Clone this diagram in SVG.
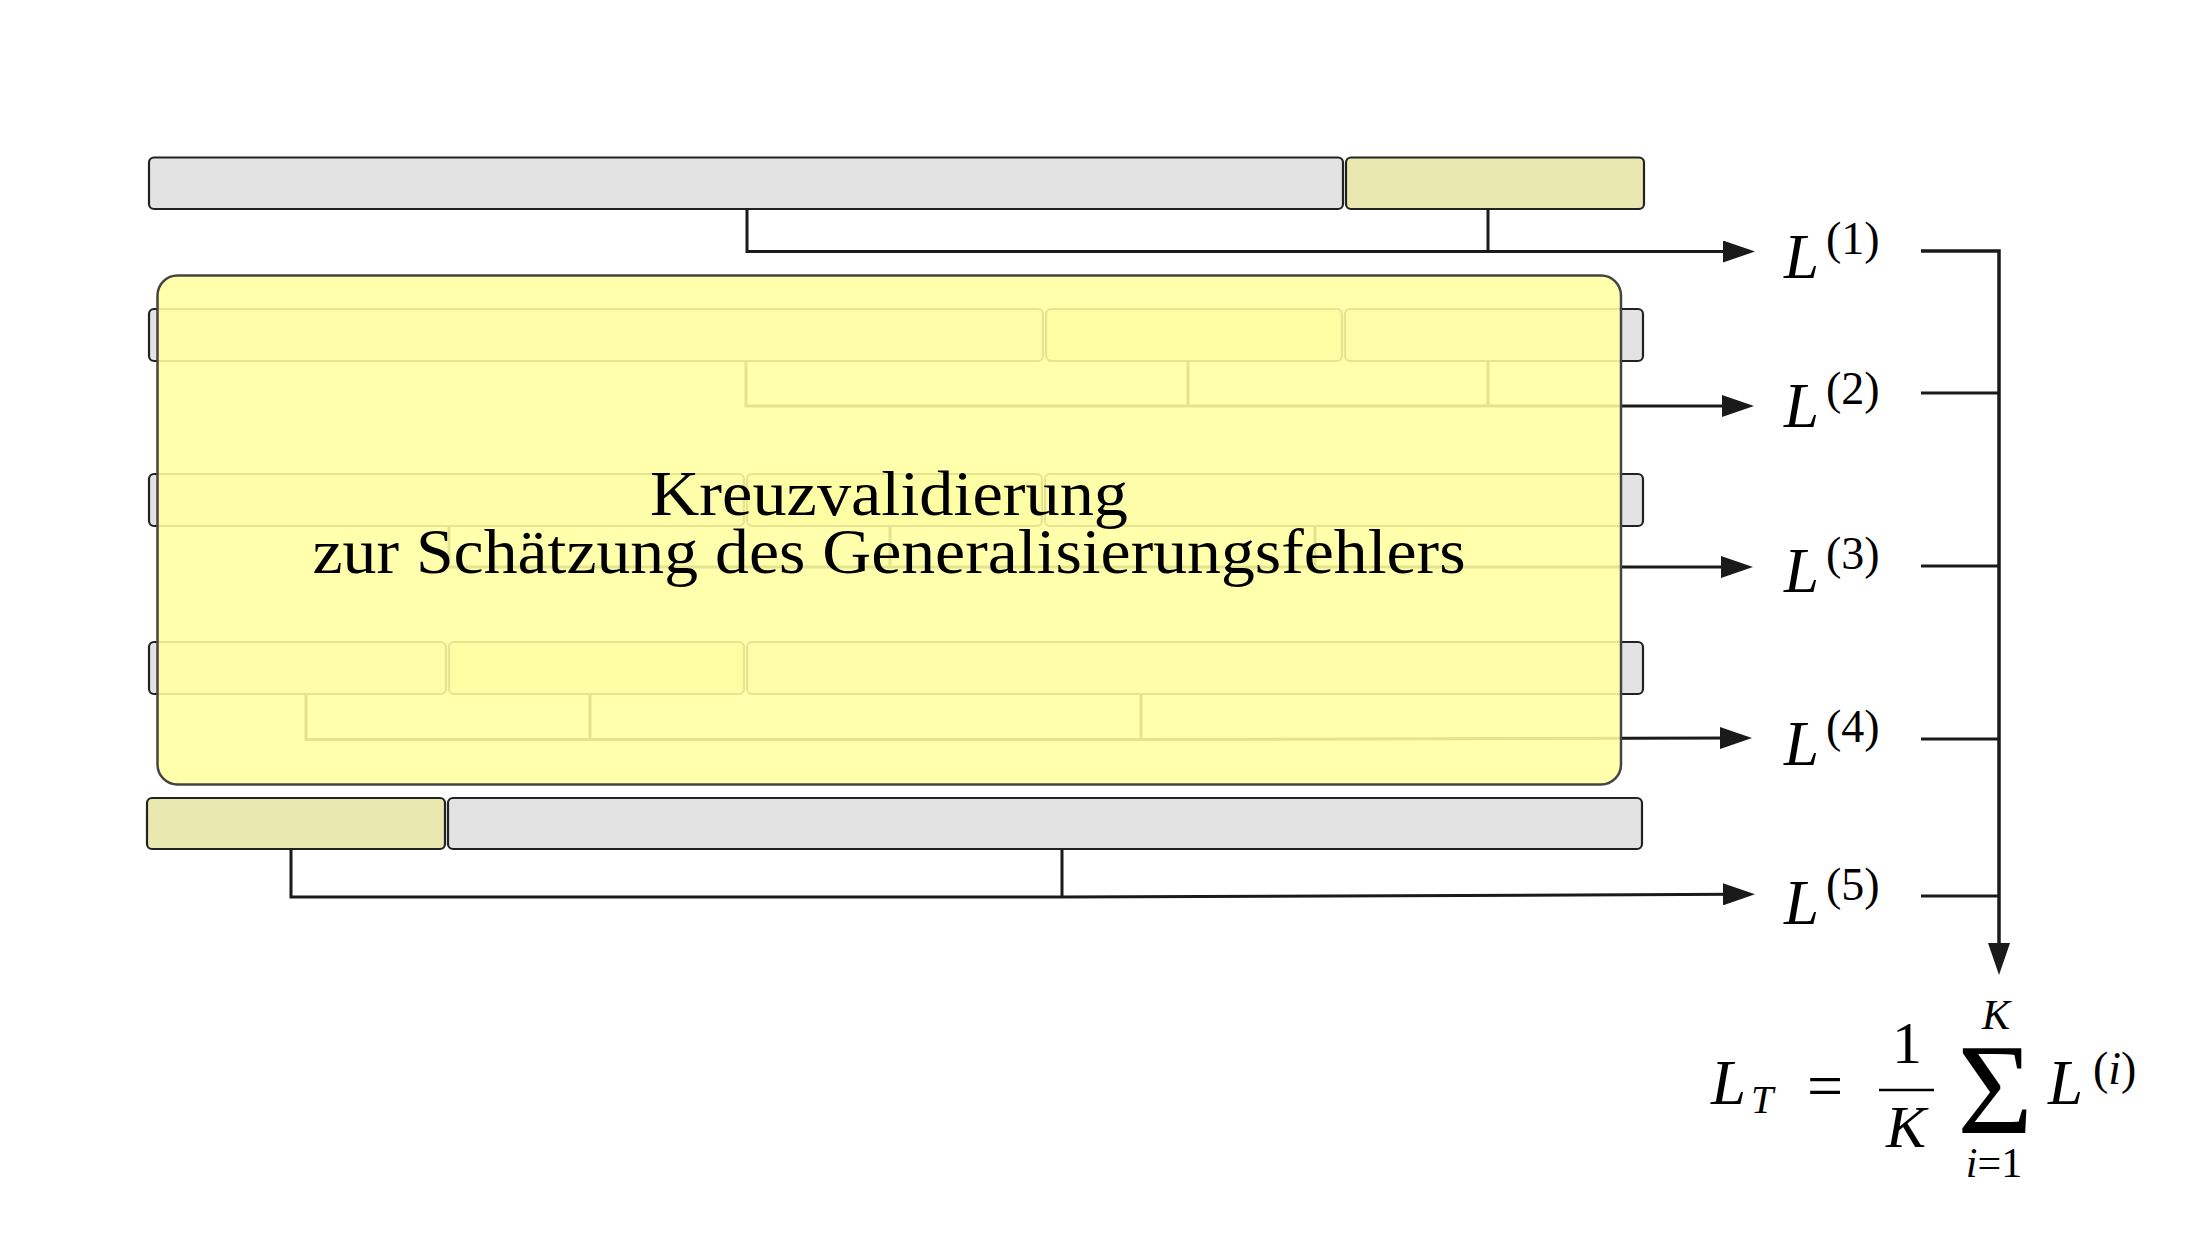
<svg xmlns="http://www.w3.org/2000/svg" width="2205" height="1241" viewBox="0 0 2205 1241">
  <style>
    .train { fill: #e3e3e3; stroke: #222; stroke-width: 2.2; }
    .test { fill: #e9e8b0; stroke: #222; stroke-width: 2.2; }
    .conn { fill: none; stroke: #1a1a1a; stroke-width: 3; }
    .bus { fill: none; stroke: #1a1a1a; stroke-width: 3.5; }
    .math { font-family: "Liberation Serif", "Times New Roman", serif; fill: #000; }
    .it { font-style: italic; }
    .box { fill: #ffffa0; fill-opacity: 0.88; stroke: #444; stroke-width: 2.5; }
    .boxtext { font-family: "Liberation Serif", "Times New Roman", serif; font-size: 63px; fill: #000; text-anchor: middle; }
  </style>
  <defs>
    <marker id="arrow" markerUnits="userSpaceOnUse" viewBox="0 0 32 22" refX="12" refY="11" markerWidth="32" markerHeight="22" orient="auto">
      <path d="M0,0 L32,11 L0,22 z" fill="#1a1a1a"/>
    </marker>
  </defs>
  <rect width="2205" height="1241" fill="#ffffff"/>

  <!-- fold rows -->
  <g id="row1">
    <rect class="train" x="149" y="157.5" width="1194" height="51.5" rx="5"/>
    <rect class="test" x="1346" y="157.5" width="298" height="51.5" rx="5"/>
  </g>
  <g id="row2">
    <rect class="train" x="149" y="309" width="894" height="52" rx="5"/>
    <rect class="test" x="1046" y="309" width="296" height="52" rx="5"/>
    <rect class="train" x="1345" y="309" width="298" height="52" rx="5"/>
  </g>
  <g id="row3">
    <rect class="train" x="149" y="474" width="595" height="52" rx="5"/>
    <rect class="test" x="747" y="474" width="295" height="52" rx="5"/>
    <rect class="train" x="1045" y="474" width="598" height="52" rx="5"/>
  </g>
  <g id="row4">
    <rect class="train" x="149" y="642" width="297" height="52" rx="5"/>
    <rect class="test" x="449" y="642" width="295" height="52" rx="5"/>
    <rect class="train" x="747" y="642" width="896" height="52" rx="5"/>
  </g>
  <g id="row5">
    <rect class="test" x="147" y="798" width="298" height="51" rx="5"/>
    <rect class="train" x="448" y="798" width="1194" height="51" rx="5"/>
  </g>

  <!-- connectors -->
  <g id="connectors">
    <path class="conn" d="M747,209 V251.5 H1735" marker-end="url(#arrow)"/>
    <path class="conn" d="M1488,209 V251.5"/>
    <path class="conn" d="M746,361 V406 H1734" marker-end="url(#arrow)"/>
    <path class="conn" d="M1188,361 V406"/>
    <path class="conn" d="M1488,361 V406"/>
    <path class="conn" d="M449,526 V567 H1733" marker-end="url(#arrow)"/>
    <path class="conn" d="M890,526 V567"/>
    <path class="conn" d="M1315,526 V567"/>
    <path class="conn" d="M306,694 V739.5 H1141 L1732,738" marker-end="url(#arrow)"/>
    <path class="conn" d="M590,694 V739.5"/>
    <path class="conn" d="M1141,694 V739.5"/>
    <path class="conn" d="M291,849 V897 H1062 L1735,894.3" marker-end="url(#arrow)"/>
    <path class="conn" d="M1062,849 V897"/>
    <path class="conn" d="M1921,393 H1999"/>
    <path class="conn" d="M1921,566 H1999"/>
    <path class="conn" d="M1921,739 H1999"/>
    <path class="conn" d="M1921,896 H1999"/>
    <path class="bus" d="M1921,251 H1999 V955" marker-end="url(#arrow)"/>
  </g>

  <!-- overlay box -->
  <g id="kreuzvalidierung">
    <rect class="box" x="157.5" y="275.5" width="1463.5" height="509" rx="20"/>
    <text class="boxtext" x="889" y="515" textLength="478" lengthAdjust="spacingAndGlyphs">Kreuzvalidierung</text>
    <text class="boxtext" x="889" y="573" textLength="1153" lengthAdjust="spacingAndGlyphs">zur Schätzung des Generalisierungsfehlers</text>
  </g>

  <!-- loss labels -->
  <g id="L1" class="math">
    <text class="it" x="1784" y="277.5" font-size="63">L</text>
    <text x="1826" y="254" font-size="46">(1)</text>
  </g>
  <g id="L2" class="math">
    <text class="it" x="1784" y="427" font-size="63">L</text>
    <text x="1826" y="403.5" font-size="46">(2)</text>
  </g>
  <g id="L3" class="math">
    <text class="it" x="1784" y="592" font-size="63">L</text>
    <text x="1826" y="568.5" font-size="46">(3)</text>
  </g>
  <g id="L4" class="math">
    <text class="it" x="1784" y="765" font-size="63">L</text>
    <text x="1826" y="741.5" font-size="46">(4)</text>
  </g>
  <g id="L5" class="math">
    <text class="it" x="1784" y="923.5" font-size="63">L</text>
    <text x="1826" y="900" font-size="46">(5)</text>
  </g>

  <!-- formula -->
  <g id="formula" class="math">
    <text class="it" x="1711" y="1104" font-size="63">L</text>
    <text class="it" x="1751" y="1113" font-size="40">T</text>
    <text x="1807" y="1107" font-size="64">=</text>
    <text x="1907" y="1063" font-size="60" text-anchor="middle">1</text>
    <line x1="1879" y1="1090" x2="1934" y2="1090" stroke="#000" stroke-width="2.5"/>
    <text class="it" x="1906" y="1147" font-size="60" text-anchor="middle">K</text>
    <text class="it" x="1996" y="1029" font-size="42" text-anchor="middle">K</text>
    <text x="1995" y="1133" font-size="130" text-anchor="middle">Σ</text>
    <text x="1994" y="1177" font-size="42" text-anchor="middle"><tspan font-style="italic">i</tspan>=1</text>
    <text class="it" x="2048" y="1104" font-size="63">L</text>
    <text x="2093" y="1084" font-size="46">(<tspan font-style="italic">i</tspan>)</text>
  </g>
</svg>
